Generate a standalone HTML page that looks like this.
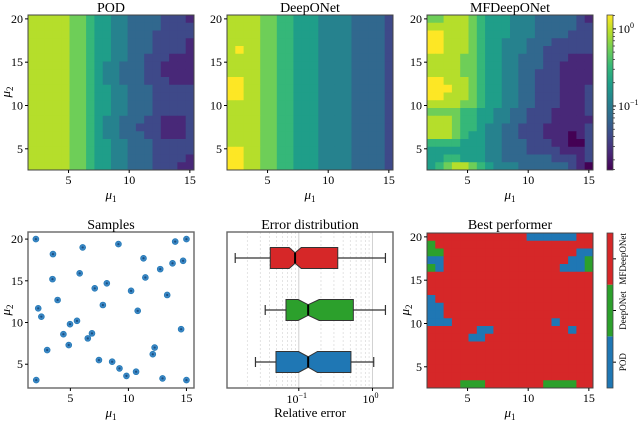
<!DOCTYPE html>
<html><head><meta charset="utf-8"><style>
html,body{margin:0;padding:0;background:#fff;}
svg{display:block;font-family:"Liberation Serif",serif;}
</style></head><body>
<svg id="fig" width="640" height="437" viewBox="0 0 640 437" xmlns="http://www.w3.org/2000/svg"></svg>
<script>
// ---------- DATA ----------
const viridis = ["#440154","#482878","#3e4989","#31688e","#26828e","#1f9e89","#35b779","#6ece58","#b5de2b","#fde725"];
const mu1Grid = [2,2.684,3.368,4.053,4.737,5.421,6.105,6.789,7.474,8.158,8.842,9.526,10.21,10.895,11.579,12.263,12.947,13.632,14.316,15];
const mu2Grid = [20,19.105,18.21,17.316,16.421,15.526,14.632,13.737,12.842,11.947,11.053,10.158,9.263,8.368,7.474,6.579,5.684,4.789,3.895,3];
const podLevels = [
"88888776554433332221","88888776554433332222","88888776554433322222","88888776554433322221",
"88888776554433322221","88888776554433222111","88888776544333221111","88888776544333221111",
"88888776544333222111","88888776554433322222","88888776554433322222","88888776554433322222",
"88888776554433322222","88888776544333221112","88888776544332221112","88888776544333221112",
"88888776554433322222","88888776554433322222","88888776554433322221","88888776554433322211"];
const deepLevels = [
"88887766555444433332","88887766555444433332","88887766555444433332","88887766555444433332",
"89887766555444433332","88887766555444433332","88887766555444433332","88887766555444433332",
"99887766555444433332","99887766555444433332","99887766555444433332","88887766555444433332",
"88887766555444433332","88887766555444433332","88887766555444433332","88887766555444433332",
"88887766555444433332","99887766555444433332","99887766555444433332","99887766555444433332"];
const mfLevels = [
"77888765554443333321","88888765554443333322","99888765554443333222","99888765544433322222",
"99888765544433222222","88887765544333222111","88887765544333221111","88887765544332221111",
"99888765544332221111","99988765544332221112","99888765544332221112","88887765544332221112",
"77776655443322211112","88876655443322211111","88876654433222111112","88876554433222111012",
"66665554433322211002","55555554433322221112","55665554433333322212","56788765444333333210"];
const bestGrid = [
"RRRRRRRRRRRRBBBBBBRR","GRRRRRRRRRRRRRRRRRRR","GGRRRRRRRRRRRRRRRRBB","BBRRRRRRRRRRRRRRRBBG",
"GBRRRRRRRRRRRRRRBBBG","RRRRRRRRRRRRRRRRRRRR","RRRRRRRRRRRRRRRRRRRR","RRRRRRRRRRRRRRRRRRRR",
"BRRRRRRRRRRRRRRRRRRR","BBRRRRRRRRRRRRRRRRRR","BBRRRRRRRRRRRRRRRRRR","BBBRRRRRRRRRRRRBRRRR",
"RRRRRRBBRRRRRRRRRBRR","RRRRRBBRRRRRRRRRRRRR","RRRRRRRRRRRRRRRRRRRR","RRRRRRRRRRRRRRRRRRRR",
"RRRRRRRRRRRRRRRRRRRR","RRRRRRRRRRRRRRRRRRRR","RRRRRRRRRRRRRRRRRRRR","RRRRGGGRRRRRRRGGGGRR"];
const sampleMu1 = [2.03,2.06,2.23,2.5,3,3.5,3.46,3.9,4.4,4.86,4.97,5.57,5.8,6.06,6.5,6.86,7.1,7.46,7.8,8.14,8.6,9.14,9.23,9.83,10.23,10.66,10.8,11.3,11.46,12.1,12.26,12.74,12.94,13.34,13.8,14.03,14.54,14.71,15,15];
const sampleMu2 = [20,3.1,11.7,10.7,6.7,18.2,15.2,12.7,8.6,7.3,9.8,10.2,15.9,19,8.1,8.7,14.1,5.5,12.1,14.7,5.3,19.4,4.5,3.6,13.8,4.1,11.4,17.7,15.4,6.2,7,16.4,3.3,13.3,17.1,19.7,9.2,17.4,20,3.1];
const boxNames = ["POD","DeepONet","MFDeepONet"];
const boxColors = ["#1f77b4","#2ca02c","#d62728"];
const whisLo = [0.0258,0.035,0.0137];
const q1 = [0.049,0.067,0.041];
const med = [0.134,0.134,0.089];
const q3 = [0.51,0.55,0.338];
const whisHi = [1.04,1.5,1.5];
const notchLo = [0.099,0.098,0.074];
const notchHi = [0.179,0.189,0.108];
const catColors = {B:"#1f77b4",G:"#2ca02c",R:"#d62728"};
const catLabels = ["POD","DeepONet","MFDeepONet"];
const mu1Ticks = [5,10,15];
const mu2Ticks = [5,10,15,20];

// ---------- HELPERS ----------
const NS="http://www.w3.org/2000/svg";
const svg=document.getElementById('fig');
function el(tag,attrs,parent){const e=document.createElementNS(NS,tag);for(const k in attrs)e.setAttribute(k,attrs[k]);(parent||svg).appendChild(e);return e;}
function txt(s,x,y,size,anchor,parent,extra){const t=el('text',Object.assign({x:x,y:y,'font-size':size,'text-anchor':anchor||'middle',fill:'#000'},extra||{}),parent);t.textContent=s;return t;}
function lin(lo,hi,a,b){return v=>a+(v-lo)/(hi-lo)*(b-a);}
function mu(sub,x,y,parent,rot){
  const g=el('g',rot?{transform:`rotate(-90 ${x} ${y})`}:{},parent);
  const t=el('text',{x:x,y:y,'font-size':13,'text-anchor':'middle','font-style':'italic'},g);
  t.textContent='μ';
  const s=el('tspan',{'font-size':9,dy:3,'font-style':'normal'},t);s.textContent=sub;
  return g;
}
function frame(x0,y0,x1,y1,parent){el('rect',{x:x0,y:y0,width:x1-x0,height:y1-y0,fill:'none',stroke:'#444',"stroke-width":1},parent);}
function xTicks(xs,ticks,y1,parent){ticks.forEach(v=>{const x=xs(v);el('line',{x1:x,x2:x,y1:y1,y2:y1+3,stroke:'#000'},parent);txt(String(v),x,y1+14,12,'middle',parent);});}
function yTicks(ys,ticks,x0,parent){ticks.forEach(v=>{const y=ys(v);el('line',{x1:x0-3,x2:x0,y1:y,y2:y,stroke:'#000'},parent);txt(String(v),x0-5,y+4,12,'end',parent);});}

// ---------- TOP HEATMAPS ----------
const topPanels=[{name:'pod',title:'POD',x0:28,data:podLevels},{name:'deeponet',title:'DeepONet',x0:227,data:deepLevels},{name:'mfdeeponet',title:'MFDeepONet',x0:427,data:mfLevels}];
const cw=13/19, ch=17/19;
topPanels.forEach((p,pi)=>{
  const g=el('g',{});
  
  
  const x0=p.x0,x1=p.x0+166,y0=15,y1=170;
  const xs=lin(2-cw/2,15+cw/2,x0,x1), ys=lin(20+ch/2,3-ch/2,y0,y1);
  p.data.forEach((row,r)=>{for(let c=0;c<row.length;c++){
    const xa=xs(mu1Grid[c]-cw/2), xb=xs(mu1Grid[c]+cw/2), ya=ys(mu2Grid[r]+ch/2), yb=ys(mu2Grid[r]-ch/2);
    const cell=el('rect',{x:xa,y:ya,width:xb-xa+0.4,height:yb-ya+0.4,fill:viridis[+row[c]]},g);
    
    
  }});
  frame(x0,y0,x1,y1,g);
  const t=txt(p.title,(x0+x1)/2,12,14,'middle',g);
  
  
  xTicks(xs,mu1Ticks,y1,g);
  yTicks(ys,mu2Ticks,x0,g);
  mu('1',(x0+x1)/2,199,g);
  if(pi===0) mu('2',10,92,g,true);
});
// colorbar
(function(){
  const g=el('g',{});
  
  
  const defs=el('defs',{},g);
  const lg=el('linearGradient',{id:'vir',x1:0,y1:1,x2:0,y2:0},defs);
  viridis.forEach((c,i)=>el('stop',{offset:i/9,'stop-color':c},lg));
  el('rect',{x:607,y:15,width:6,height:155,fill:'url(#vir)',stroke:'#444','stroke-width':0.8},g);
  const cy=lin(0.18,-1.83,15,170);
  [[0,'0'],[-1,'−1']].forEach(([v,s])=>{const y=cy(v);el('line',{x1:613,x2:616,y1:y,y2:y,stroke:'#000'},g);
    const t=txt('10',618,y+4,12,'start',g);const sp=el('tspan',{'font-size':8,dy:-5},t);sp.textContent=s;});
  [-1.824,-1.699,-1.523,-1.398,-1.301,-1.222,-1.155,-1.097,-1.046,-0.699,-0.523,-0.398,-0.301,-0.222,-0.155,-0.097,-0.046,0.1761].forEach(v=>{const y=cy(v);el('line',{x1:613,x2:615,y1:y,y2:y,stroke:'#000','stroke-width':0.6},g);});
})();

// ---------- SAMPLES ----------
(function(){
  const g=el('g',{});
  
  
  const x0=28,x1=194,y0=232,y1=388;
  const xs=lin(1.35,15.65,x0,x1), ys=lin(20.85,2.15,y0,y1);
  sampleMu1.forEach((v,i)=>{
    const pt=el('circle',{cx:xs(v),cy:ys(sampleMu2[i]),r:3,fill:'#3a86c4',stroke:'#1f77b4','stroke-width':0.6},g);
    
    
    el('circle',{cx:xs(v),cy:ys(sampleMu2[i]),r:1.1,fill:'#1a4f80'},g);
  });
  el('rect',{x:x0,y:y0,width:x1-x0,height:y1-y0,fill:'none',stroke:'#666','stroke-width':1.4},g);
  const t=txt('Samples',(x0+x1)/2,229,14,'middle',g);
  
  
  xTicks(xs,mu1Ticks,y1,g); yTicks(ys,mu2Ticks,x0,g);
  mu('1',(x0+x1)/2,417,g); mu('2',10,310,g,true);
})();

// ---------- ERROR DISTRIBUTION ----------
(function(){
  const g=el('g',{});
  
  
  const x0=227,x1=393,y0=232,y1=388;
  const lx=lin(Math.log10(0.0106),Math.log10(1.9),x0,x1);
  const xs=v=>lx(Math.log10(v));
  const ys=lin(0.5,3.5,y1,y0);
  for(let d=-2;d<=0;d++)for(let m=1;m<10;m++){const v=m*Math.pow(10,d);if(v<0.0106||v>1.9)continue;const x=xs(v);
    el('line',{x1:x,x2:x,y1:y0,y2:y1,stroke:m===1?'#d0d0d0':'#d8d8d8','stroke-width':m===1?1:0.7,'stroke-dasharray':m===1?'':'2,2'},g);}
  const hh=10.5;
  boxNames.forEach((n,i)=>{
    const y=ys(i+1);
    el('line',{x1:xs(whisLo[i]),x2:xs(q1[i]),y1:y,y2:y,stroke:'#333','stroke-width':1.2},g);
    el('line',{x1:xs(q3[i]),x2:xs(whisHi[i]),y1:y,y2:y,stroke:'#333','stroke-width':1.2},g);
    [whisLo[i],whisHi[i]].forEach(v=>el('line',{x1:xs(v),x2:xs(v),y1:y-5,y2:y+5,stroke:'#333','stroke-width':1.2},g));
    const a=xs(q1[i]),b=xs(notchLo[i]),m=xs(med[i]),c=xs(notchHi[i]),d=xs(q3[i]);
    const pts=`${a},${y-hh} ${b},${y-hh} ${m},${y-hh/2} ${c},${y-hh} ${d},${y-hh} ${d},${y+hh} ${c},${y+hh} ${m},${y+hh/2} ${b},${y+hh} ${a},${y+hh}`;
    const box=el('polygon',{points:pts,fill:boxColors[i],stroke:'#333','stroke-width':1},g);
    
    
    el('line',{x1:m,x2:m,y1:y-hh/2,y2:y+hh/2,stroke:'#000','stroke-width':2},g);
  });
  el('rect',{x:x0,y:y0,width:x1-x0,height:y1-y0,fill:'none',stroke:'#666','stroke-width':1.4},g);
  [[0.1,'−1'],[1,'0']].forEach(([v,s])=>{const x=xs(v);el('line',{x1:x,x2:x,y1:y1,y2:y1+3,stroke:'#000'},g);
    const t=txt('10',x-2,y1+15,12,'middle',g);const sp=el('tspan',{'font-size':8,dy:-5},t);sp.textContent=s;});
  const t=txt('Error distribution',(x0+x1)/2,229,14,'middle',g);
  
  
  const xl=txt('Relative error',(x0+x1)/2,417,13,'middle',g);
  
  
})();

// ---------- BEST PERFORMER ----------
(function(){
  const g=el('g',{});
  
  
  const x0=427,x1=593,y0=233,y1=388;
  const xs=lin(2-cw/2,15+cw/2,x0,x1), ys=lin(20+ch/2,3-ch/2,y0,y1);
  bestGrid.forEach((row,r)=>{for(let c=0;c<row.length;c++){
    const xa=xs(mu1Grid[c]-cw/2), xb=xs(mu1Grid[c]+cw/2), ya=ys(mu2Grid[r]+ch/2), yb=ys(mu2Grid[r]-ch/2);
    const cell=el('rect',{x:xa,y:ya,width:xb-xa+0.4,height:yb-ya+0.4,fill:catColors[row[c]]},g);
    
    
  }});
  frame(x0,y0,x1,y1,g);
  const t=txt('Best performer',(x0+x1)/2,229,14,'middle',g);
  
  
  xTicks(xs,mu1Ticks,y1,g); yTicks(ys,mu2Ticks,x0,g);
  mu('1',(x0+x1)/2,417,g); mu('2',409,310,g,true);
  // categorical colorbar
  const cb=el('g',{},g);
  
  
  const seg=(388-233)/3;
  ['B','G','R'].forEach((k,i)=>{
    const ya=388-(i+1)*seg;
    el('rect',{x:607,y:ya,width:6,height:seg,fill:catColors[k]},cb);
    const yc=ya+seg/2;
    el('line',{x1:613,x2:616,y1:yc,y2:yc,stroke:'#000'},cb);
    const lab=txt(catLabels[i],626,yc,9,'middle',cb,{transform:`rotate(-90 626 ${yc})`});
    
    
  });
  el('rect',{x:607,y:233,width:6,height:155,fill:'none',stroke:'#444','stroke-width':0.8},cb);
})();
</script>
</body></html>
